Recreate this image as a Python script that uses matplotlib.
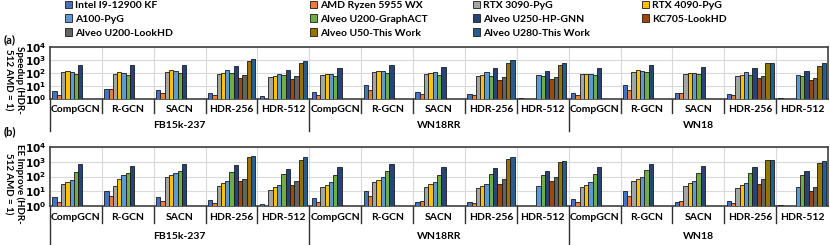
import numpy as np
import matplotlib
matplotlib.use("Agg")
import matplotlib.pyplot as plt
from matplotlib.patches import Patch
from matplotlib.transforms import blended_transform_factory

nan = np.nan

# categories
datasets = ["FB15k-237", "WN18RR", "WN18"]
models = ["CompGCN", "R-GCN", "SACN", "HDR-256", "HDR-512"]

series_names = ["Intel I9-12900 KF", "AMD Ryzen 5955 WX", "RTX 3090-PyG", "RTX 4090-PyG",
                "A100-PyG", "Alveo U200-GraphACT", "Alveo U250-HP-GNN", "KC705-LookHD",
                "Alveo U200-LookHD", "Alveo U50-This Work", "Alveo U280-This Work"]
colors = ["#4472C4", "#ED7D31", "#A5A5A5", "#FFC000", "#5B9BD5", "#70AD47",
          "#264478", "#9E480E", "#636363", "#997300", "#255E91"]

# (a) speedup, 15 values each (3 datasets x 5 models)
intel = [3.8, 5.4, 4.6, 2.9, 1.6, 3.4, 11, 3.4, 2.3, 1.3, 2.9, 11, 2.7, 2.3, 1.25]
amd = [2.2, 5.4, 2.7, 1.9, 1, 2.1, 5, 2.5, 1.9, 1, 1.9, 5, 2.7, 1.9, 1]
rtx3090 = [112, 90, 125, 90, 50, 75, 125, 85, 63, nan, 80, 125, 85, 63, nan]
rtx4090 = [140, 120, 170, 105, 63, 90, 150, 100, 70, nan, 85, 160, 105, 75, nan]
a100 = [125, 105, 150, 170, 90, 80, 150, 120, 120, 70, 85, 150, 105, 110, 66]
graphact = [90, 75, 105, 95, 75, 63, 105, 75, 63, 60, 70, 110, 80, 75, 63]
hpgnn = [380, 400, 400, 340, 180, 250, 400, 270, 240, 150, 240, 430, 270, 240, 140]
kc705 = [nan, nan, nan, 45, 35, nan, nan, nan, 31, 33, nan, nan, nan, 45, 31]
u200_lookhd = [nan, nan, nan, 66, 56, nan, nan, nan, 47, 52, nan, nan, nan, 63, 45]
u50 = [nan, nan, nan, 870, 540, nan, nan, nan, 600, 380, nan, nan, nan, 540, 320]
u280 = [nan, nan, nan, 1150, 870, nan, nan, nan, 1000, 580, nan, nan, nan, 640, 540]

# (b) energy efficiency improvement
intel_ee = [3.9, 10, 4.3, 2.7, 1.4, 3.3, 11, 2.0, 2.0, 1.05, 2.8, 11, 1.8, 2.1, 1.15]
amd_ee = [2.0, 5, 2.3, 1.7, 1, 2.0, 4.8, 2.2, 1.7, 1, 2.0, 5, 2.3, 1.7, 1]
rtx3090_ee = [31, 24, 88, 24, 13, 18.5, 45, 19, 16, nan, 19.5, 52, 23, 16.5, nan]
rtx4090_ee = [45, 71, 120, 36, 19.5, 28, 61, 32, 23, nan, 28, 68, 34, 26, nan]
a100_ee = [61, 126, 173, 52, 28, 40, 88, 45, 33, 24, 40, 100, 49, 38, 20]
graphact_ee = [210, 164, 235, 210, 155, 133, 235, 133, 140, 120, 155, 260, 180, 165, 133]
hpgnn_ee = [670, 515, 740, 630, 320, 420, 670, 440, 400, 250, 440, 740, 490, 420, 250]
kc705_ee = [nan, nan, nan, 47, 28, nan, nan, nan, 33, 47, nan, nan, nan, 33, 10]
u200_lookhd_ee = [nan, nan, nan, 71, 52, nan, nan, nan, 64, 98, nan, nan, nan, 68, 20]
u50_ee = [nan, nan, nan, 2200, 1380, nan, nan, nan, 1450, 910, nan, nan, nan, 1380, 830]
u280_ee = [nan, nan, nan, 2450, 2000, nan, nan, nan, 2000, 1120, nan, nan, nan, 1380, 1180]

speedup = [intel, amd, rtx3090, rtx4090, a100, graphact, hpgnn, kc705, u200_lookhd, u50, u280]
ee = [intel_ee, amd_ee, rtx3090_ee, rtx4090_ee, a100_ee, graphact_ee, hpgnn_ee,
      kc705_ee, u200_lookhd_ee, u50_ee, u280_ee]

plt.rcParams['font.family'] = ['Lato', 'DejaVu Sans']
plt.rcParams['font.weight'] = 'bold'

fig = plt.figure(figsize=(8.3, 2.45), dpi=100)
W, H = 830.0, 245.0


def make_panel(top_px, bot_px, data, lab_y, sep_y, ds_y, long_y):
    ax = fig.add_axes([50 / W, 1 - bot_px / H, 778 / W, (bot_px - top_px) / H])
    ncat = len(datasets) * len(models)
    bw = 0.083
    start = 0.045
    for k, vals in enumerate(data):
        v = np.array(vals, dtype=float)
        x = np.arange(ncat) + start + k * bw
        ax.bar(x, v - 1, bottom=1, width=bw, align='edge', color=colors[k],
               edgecolor='#1a1a1a', linewidth=0.6, zorder=3)
    ax.set_yscale('log')
    ax.set_ylim(1, 1e4)
    ax.set_xlim(0, ncat)
    ax.set_yticks([1, 10, 100, 1000, 10000])
    ax.set_yticklabels([r'$\mathbf{10^{%d}}$' % i for i in range(5)], fontsize=7.5)
    ax.yaxis.set_minor_locator(matplotlib.ticker.NullLocator())
    ax.set_xticks(np.arange(1, ncat))
    ax.set_xticklabels([])
    ax.tick_params(length=0, pad=3)
    ax.grid(True, color='#D9D9D9', linewidth=0.8, zorder=0)
    for s in ax.spines.values():
        s.set_color('#404040')
        s.set_linewidth(1.2)
    tr = blended_transform_factory(ax.transData, ax.transAxes)
    for i in range(ncat):
        ax.text(i + 0.5, lab_y, models[i % len(models)], transform=tr,
                ha='center', va='center', fontsize=7.5, fontweight='bold')
    for i in range(ncat + 1):
        if i % len(models) == 0:
            if i < ncat:
                ax.plot([i, i], [0, long_y], transform=tr, color='#303030', lw=1, clip_on=False)
        else:
            ax.plot([i, i], [0, sep_y], transform=tr, color='#303030', lw=1, clip_on=False)
    for d, name in enumerate(datasets):
        ax.text(d * len(models) + 2.5, ds_y, name, transform=tr,
                ha='center', va='center', fontsize=7.5, fontweight='bold')
    return ax


ax1 = make_panel(47, 99, speedup, -0.21, -0.27, -0.5, -0.62)
ax2 = make_panel(147, 206, ee, -0.2, -0.29, -0.51, -0.66)

ylab = dict(rotation=270, ha='center', va='center', fontsize=7, fontweight='bold')
fig.text(19.5 / W, 1 - 80 / H, "Speedup (HDR-", **ylab)
fig.text(8.5 / W, 1 - 80 / H, "512 AMD = 1)", **ylab)
fig.text(19.5 / W, 1 - 184 / H, "EE Improve (HDR-", **ylab)
fig.text(8.5 / W, 1 - 184 / H, "512 AMD = 1)", **ylab)
fig.text(4 / W, 1 - 40 / H, "(a)", ha='left', va='center', fontsize=8, fontweight='bold')
fig.text(4 / W, 1 - 132 / H, "(b)", ha='left', va='center', fontsize=8, fontweight='bold')

# legend laid out row by row, one legend per column
col_x = [64, 309, 472, 641]
for c in range(4):
    idx = list(range(c, len(series_names), 4))
    handles = [Patch(facecolor=colors[i], edgecolor='#1a1a1a', linewidth=0.6) for i in idx]
    labels = [series_names[i] for i in idx]
    fig.legend(handles, labels, loc='upper left', bbox_to_anchor=(col_x[c] / W, 1.0),
               frameon=False, fontsize=7.5, handlelength=0.75, handleheight=0.75,
               handletextpad=0.3, labelspacing=0.42, borderaxespad=0, borderpad=0.05)

plt.savefig('out.png', dpi=100)
